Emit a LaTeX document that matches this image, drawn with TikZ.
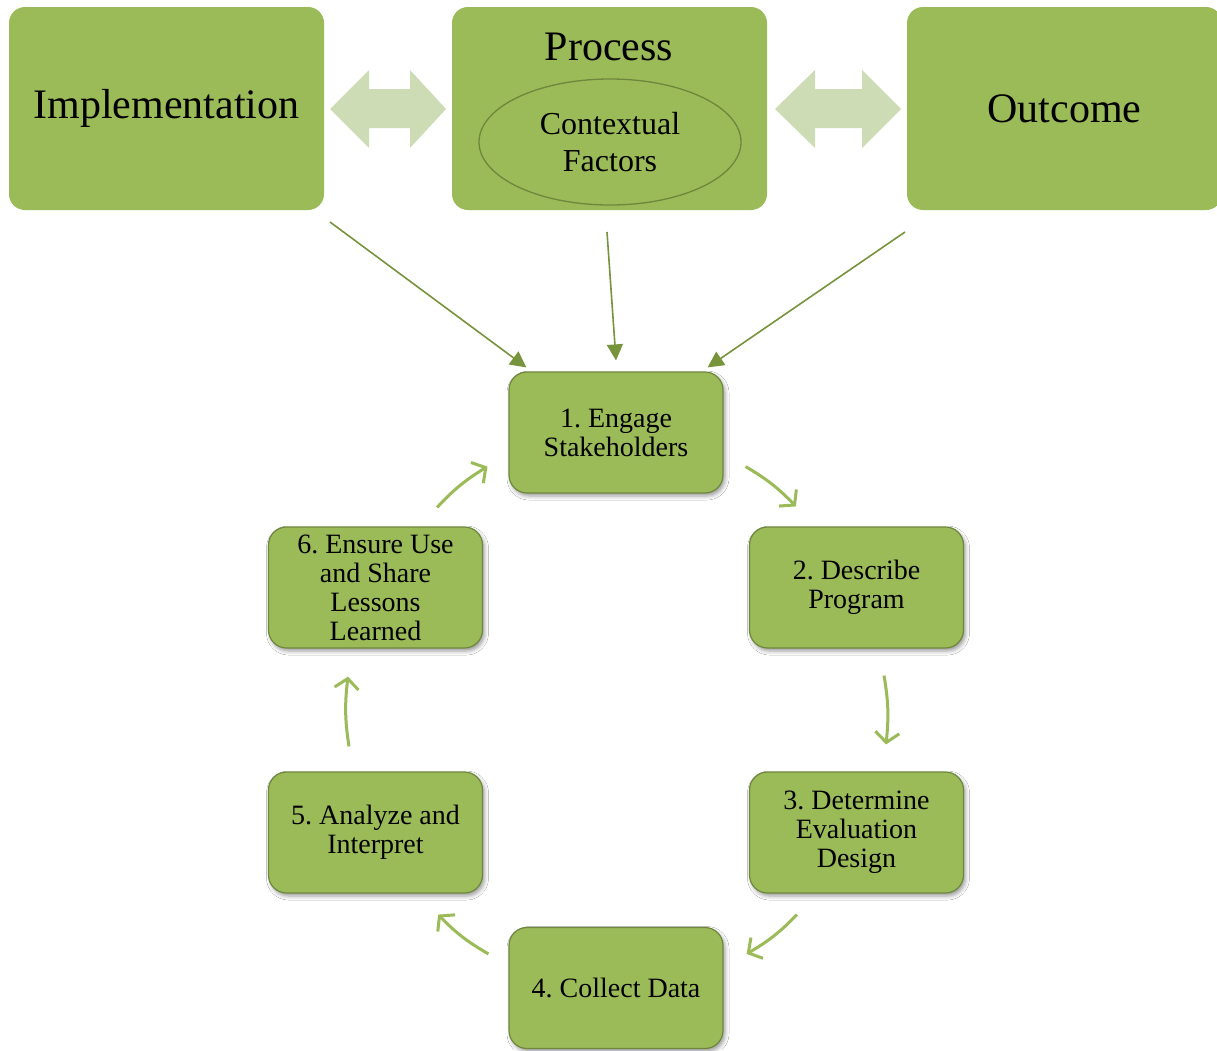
\documentclass[tikz,border=0pt]{standalone}
\usepackage{fontspec}
\setmainfont{Liberation Serif}
\frenchspacing
\usetikzlibrary{arrows.meta,shadows.blur,bending,shapes.geometric}
\definecolor{og}{HTML}{9BBB59}
\definecolor{ogdark}{HTML}{6E873C}
\definecolor{oglight}{HTML}{CEDCB6}
\definecolor{conncol}{HTML}{77933C}
\tikzset{
  topbox/.style={fill=og, rounded corners=16pt, minimum width=315pt, minimum height=203pt, inner sep=0pt, font=\fontsize{42}{46}\selectfont},
  cyclebox/.style={fill=og, draw=ogdark, line width=1.2pt, rounded corners=18pt, minimum width=214pt, minimum height=121pt, inner sep=2pt, align=center, font=\fontsize{28}{29}\selectfont,
    blur shadow={shadow xshift=2pt, shadow yshift=-3pt, shadow blur radius=4pt, shadow opacity=40}},
  conn/.style={draw=conncol, line width=1.6pt, -{Triangle[length=16pt,width=16pt]}},
  cyc/.style={draw=og, line width=3pt, -{Straight Barb[length=10pt,width=24pt]}, bend left=8},
  dbl/.style={fill=oglight},
}
\begin{document}
\begin{tikzpicture}[x=1pt,y=-1pt]
\useasboundingbox[fill=white] (0,0) rectangle (1217,1050);
% top boxes
\node[topbox] (impl) at (166.5,108.5) {\raisebox{-3pt}{Implementation}};
\node[topbox] (proc) at (609.5,108.5) {};
\node[topbox] (outc) at (1064.5,108.5) {Outcome};
\node[font=\fontsize{42}{46}\selectfont, inner sep=0pt] (proclabel) at (609,47) {Process};
\node[ellipse, fill=og, draw=ogdark, line width=1.3pt, minimum width=262pt, minimum height=126pt, align=center, inner sep=0pt, font=\fontsize{32}{37}\selectfont] (ctx) at (610,142) {Contextual\\Factors};
% double arrows
\fill[dbl] (330,109) -- (369,70) -- (369,89) -- (410,89) -- (410,70) -- (446,109) -- (410,148) -- (410,128) -- (369,128) -- (369,148) -- cycle;
\fill[dbl] (775,109) -- (815,70) -- (815,89) -- (862,89) -- (862,70) -- (901,109) -- (862,148) -- (862,128) -- (815,128) -- (815,148) -- cycle;
% cycle boxes
\node[cyclebox] (b1) at (616,432.5) {1. Engage\\Stakeholders};
\node[cyclebox] (b2) at (856.5,587.5) {2. Describe\\Program};
\node[cyclebox] (b3) at (856.5,832.5) {3. Determine\\Evaluation\\Design};
\node[cyclebox] (b4) at (616,988) {4. Collect Data};
\node[cyclebox] (b5) at (375.5,832.5) {5. Analyze and\\Interpret};
\node[cyclebox] (b6) at (375.5,587.5) {6. Ensure Use\\and Share\\Lessons\\Learned};
% connectors from top
\coordinate (s1) at (330,222);
\coordinate (s2) at (607,232);
\coordinate (s3) at (905,232);
\draw[conn] (s1) -- ([xshift=18pt,yshift=4pt]b1.north west);
\draw[conn] (s2) -- ([yshift=11pt]b1.north);
\draw[conn] (s3) -- ([xshift=-16pt,yshift=4pt]b1.north east);
% cycle arrows
\draw[cyc] ([xshift=22pt,yshift=27pt]b1.south east) to ([xshift=47pt,yshift=20pt]b2.north west);
\draw[cyc] ([xshift=27.5pt,yshift=-27pt]b2.south) to ([xshift=29.5pt,yshift=27pt]b3.north);
\draw[cyc] ([xshift=48pt,yshift=-21pt]b3.south west) to ([xshift=23pt,yshift=-27pt]b4.north east);
\draw[cyc] ([xshift=-20pt,yshift=-27pt]b4.north west) to ([xshift=-45pt,yshift=-21pt]b5.south east);
\draw[cyc] ([xshift=-26.5pt,yshift=25pt]b5.north) to ([xshift=-27.5pt,yshift=-28pt]b6.south);
\draw[cyc] ([xshift=-46pt,yshift=19pt]b6.north east) to ([xshift=-21pt,yshift=27pt]b1.south west);
\end{tikzpicture}
\end{document}
